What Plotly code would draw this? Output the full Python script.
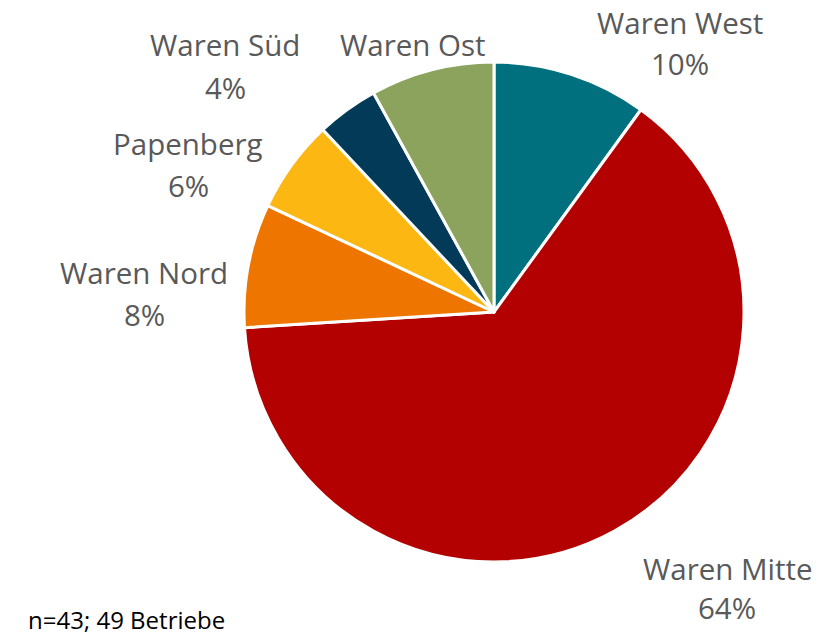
import plotly.graph_objects as go

categories = ["Waren West", "Waren Mitte", "Waren Nord", "Papenberg", "Waren Süd", "Waren Ost"]
values = [10, 64, 8, 6, 4, 8]
pct_labels = ["10%", "64%", "8%", "6%", "4%", ""]
colors = ["#00707f", "#b30000", "#ee7600", "#fdb713", "#023a58", "#8ba35c"]

# label anchor positions (pixels from top-left) for name and percent line
label_pos = {
    "Waren West": ((672, 14), (672, 55)),
    "Waren Mitte": ((720, 560), (719, 599)),
    "Waren Nord": ((136, 264), (136, 307)),
    "Papenberg": ((180, 135), (180, 178)),
    "Waren Süd": ((217, 37), (217, 79)),
    "Waren Ost": ((405, 37), (405, 79)),
}

W, H = 820, 632
dx, dy = -7, -8
fig = go.Figure(go.Pie(
    labels=categories,
    values=values,
    sort=False,
    direction="clockwise",
    rotation=0,
    marker=dict(colors=colors, line=dict(color="white", width=3)),
    textinfo="none",
    hoverinfo="label+percent",
    domain=dict(x=[(243 + dx) / W, (743 + dx) / W], y=[(H - 562 - dy) / H, (H - 62 - dy) / H]),
    showlegend=False,
))

font = "Open Sans, Noto Sans, sans-serif"
ann = []
for cat, pct in zip(categories, pct_labels):
    (x1, y1), (x2, y2) = label_pos[cat]
    ann.append(dict(x=x1 / W, y=1 - y1 / H, xref="paper", yref="paper", text=cat,
                    showarrow=False, xanchor="center", yanchor="middle",
                    font=dict(family=font, size=29.5, color="#595959")))
    if pct:
        ann.append(dict(x=x2 / W, y=1 - y2 / H, xref="paper", yref="paper", text=pct,
                        showarrow=False, xanchor="center", yanchor="middle",
                        font=dict(family=font, size=29.5, color="#595959")))
ann.append(dict(x=18 / W, y=1 - 611 / H, xref="paper", yref="paper", text="n=43; 49 Betriebe",
                showarrow=False, xanchor="left", yanchor="middle",
                font=dict(family=font, size=24, color="#000000")))

fig.update_layout(
    width=W, height=H,
    margin=dict(l=0, r=0, t=0, b=0),
    paper_bgcolor="white", plot_bgcolor="white",
    annotations=ann,
)
fig.write_html("out.html")
